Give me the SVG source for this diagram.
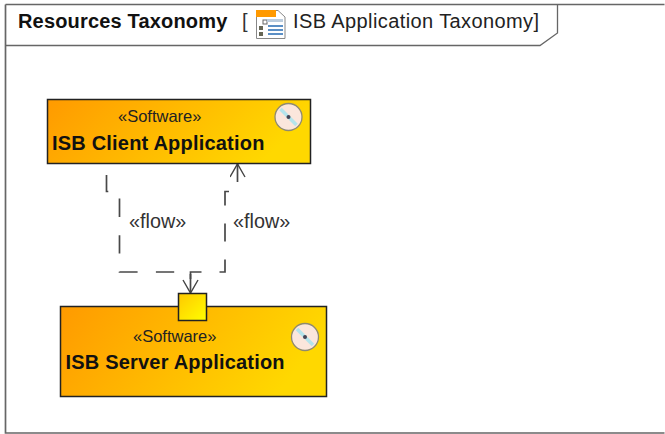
<svg xmlns="http://www.w3.org/2000/svg" width="665" height="434" viewBox="0 0 665 434">
<defs>
<linearGradient id="g" x1="0" y1="0" x2="1" y2="0.25"><stop offset="0" stop-color="#ff9a00"/><stop offset="1" stop-color="#ffd800"/></linearGradient>
<linearGradient id="p" x1="0" y1="0" x2="1" y2="1"><stop offset="0" stop-color="#ffc800"/><stop offset="1" stop-color="#ffff00"/></linearGradient>
<marker id="a" markerWidth="20" markerHeight="20" refX="14" refY="8" orient="auto-start-reverse" markerUnits="userSpaceOnUse"><path d="M1 0.500 L14 8 L1 15.500" fill="none" stroke="#444" stroke-width="1.400"/></marker>
<g id="artifact"><circle r="13.500" fill="#fbe6dc" stroke="#8f8a70" stroke-width="1.300"/><path d="M-8 -8 L8 8" stroke="#b4e4ec" stroke-width="3.500"/><circle r="2" fill="#445"/></g>
</defs>
<style>
text{font-family:"Liberation Sans",Arial,sans-serif;fill:#111}
.f{fill:none;stroke:#484848;stroke-width:1.700}
.b{stroke:#222;stroke-width:1.500;fill:url(#g)}
.n{font-size:20px;font-weight:bold;letter-spacing:.2px}
.s{font-size:16.500px;fill:#222}
.l{font-size:19.800px;fill:#333}
</style>
<g id="frame">
<path d="M5.500 4.500H664.500M5.500 4.500V433H664.500" fill="none" stroke="#666" stroke-width="1.700"/>
<path d="M5.500 45.500H540L557.500 33V4.500" fill="none" stroke="#666" stroke-width="1.300"/>
<text x="18" y="28" style="font-size:20px;font-weight:bold;letter-spacing:.17px">Resources Taxonomy</text>
<text x="242" y="28" style="font-size:20px;fill:#333">[</text>
<g id="icon">
<path d="M256.500 10.500H278L285 17V38.500H256.500Z" fill="#fff" stroke="#888"/>
<rect x="256" y="10" width="20" height="7" fill="#f90"/>
<rect x="263" y="20" width="4" height="4" fill="#fff" stroke="#666"/>
<rect x="259" y="26" width="4" height="4" fill="#665"/><rect x="259" y="32" width="4" height="4" fill="#665"/>
<rect x="267" y="19" width="16" height="3" fill="#bcd"/>
<path d="M268 25h15v2h-15zM268 29h15v2h-15zM268 33h15v2h-15z" fill="#5b8fc5"/>
</g>
<text x="293" y="28" style="font-size:20px;fill:#222;letter-spacing:.4px">ISB Application Taxonomy]</text>
</g>
<g id="connectors">
<path class="f" d="M106.500 175V191.500H119.500V272H190.500V293" stroke-dasharray="18.300 18.300" marker-end="url(#a)"/>
<path class="f" d="M237.500 164V191.500H225V272H190.500V293" stroke-dasharray="18 18" marker-start="url(#a)"/>
<text class="l" x="129" y="228">«flow»</text>
<text class="l" x="233" y="228">«flow»</text>
</g>
<g id="client">
<rect class="b" x="47.500" y="99.500" width="263" height="64"/>
<text class="s" x="118" y="122">«Software»</text>
<text class="n" x="52" y="150">ISB Client Application</text>
<use href="#artifact" x="288.500" y="117"/>
</g>
<g id="server">
<rect class="b" x="60.500" y="306.500" width="266" height="90"/>
<text class="s" x="133" y="342">«Software»</text>
<text class="n" x="65.500" y="369">ISB Server Application</text>
<use href="#artifact" x="305" y="337"/>
<rect id="port" x="178.500" y="293.500" width="28" height="27" fill="url(#p)" stroke="#222" stroke-width="1.500"/>
</g>
</svg>
